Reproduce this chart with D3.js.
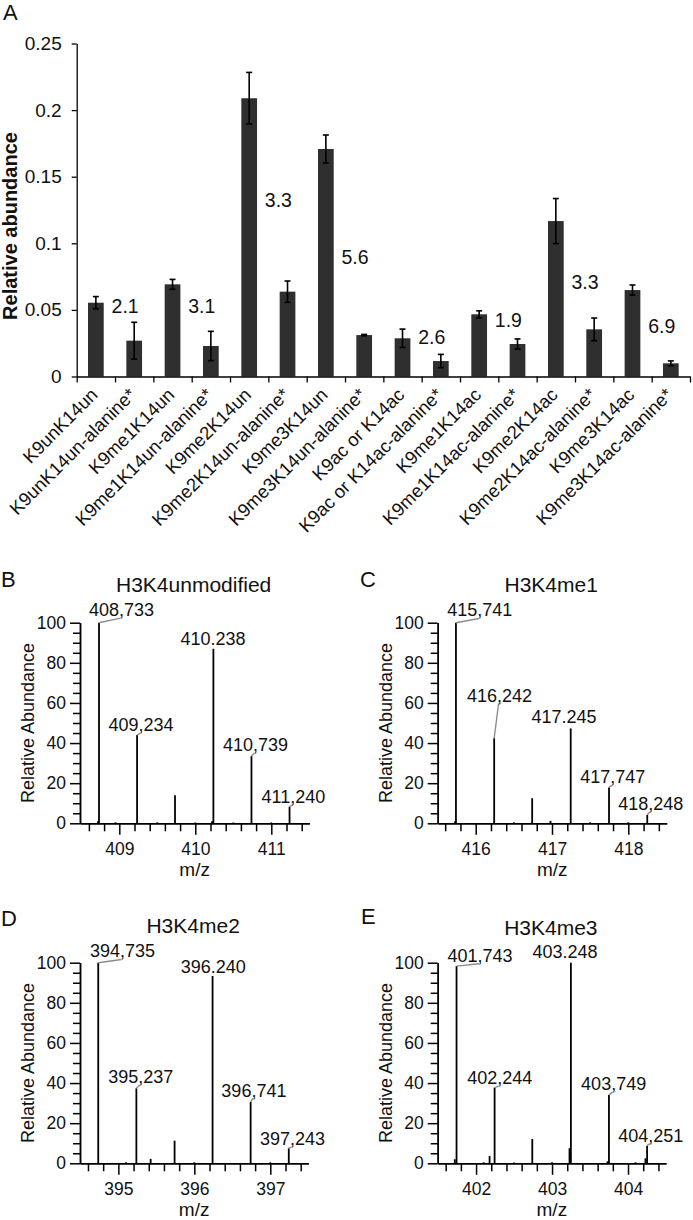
<!DOCTYPE html>
<html><head><meta charset="utf-8">
<script src="https://cdn.jsdelivr.net/npm/d3@7"></script>
<style>
body{margin:0;background:#fff}
svg{display:block}
text{font-family:"Liberation Sans",Arial,Helvetica,sans-serif;fill:#111}
</style>
</head><body>
<svg id="chart" width="693" height="1220"></svg>
<script>
// ---------- Panel A data ----------
const categories = ["K9unK14un","K9unK14un-alanine*","K9me1K14un","K9me1K14un-alanine*",
  "K9me2K14un","K9me2K14un-alanine*","K9me3K14un","K9me3K14un-alanine*",
  "K9ac or K14ac","K9ac or K14ac-alanine*","K9me1K14ac","K9me1K14ac-alanine*",
  "K9me2K14ac","K9me2K14ac-alanine*","K9me3K14ac","K9me3K14ac-alanine*"];
const abundance = [0.0554,0.0269,0.0692,0.0229,0.2089,0.0637,0.1708,0.0311,
  0.0287,0.0116,0.0467,0.0244,0.1167,0.0354,0.0649,0.0099];
const abundanceErr = [0.0046,0.0138,0.0037,0.0110,0.0194,0.0080,0.0105,0.0005,
  0.0069,0.0050,0.0026,0.0038,0.0169,0.0085,0.0038,0.0018];
const ratioLabels = ["2.1","3.1","3.3","5.6","2.6","1.9","3.3","6.9"];
const ratioLabelAt = [0.0529,0.0529,0.1325,0.0901,0.0299,0.0428,0.0713,0.0379];
const yTicksA = [0,0.05,0.1,0.15,0.2,0.25];
const yTickLabelsA = ["0","0.05","0.1","0.15","0.2","0.25"];

// ---------- Spectra data ----------
const mzB  = [408.733,408.72,408.95,409.234,409.5,409.733,410.0,410.22,410.238,410.5,410.739,411.0,411.240];
const intB = [100,1.0,0.5,44,0.5,14,0.4,1.0,87,0.4,33.5,0.4,8.3];
const labelsB = [
  {text:"408,733", mz:408.733, lx:409.029, ly:103.3, leader:true},
  {text:"409,234", mz:409.234, lx:409.286, ly:45.8, leader:true},
  {text:"410.238", mz:410.238, lx:410.233, ly:88.9, leader:false},
  {text:"410,739", mz:410.739, lx:410.792, ly:36.0, leader:true},
  {text:"411,240", mz:411.240, lx:411.292, ly:10.1, leader:true}];
const ticksB = [409,410,411];

const mzC  = [415.741,415.73,416.242,416.5,416.74,416.98,417.245,417.5,417.747,418.0,418.248];
const intC = [100,1.0,42.4,0.5,12.5,1.2,47.3,0.5,17.9,0.5,4.2];
const labelsC = [
  {text:"415,741", mz:415.741, lx:416.054, ly:103.1, leader:true},
  {text:"416,242", mz:416.242, lx:416.313, ly:60.7, leader:true},
  {text:"417.245", mz:417.245, lx:417.157, ly:49.8, leader:false},
  {text:"417,747", mz:417.747, lx:417.797, ly:19.9, leader:true},
  {text:"418,248", mz:418.248, lx:418.295, ly:6.6, leader:true}];
const ticksC = [416,417,418];

const mzD  = [394.735,395.1,395.237,395.425,395.74,396.0,396.240,396.741,397.0,397.243];
const intD = [100,0.5,37.4,2.2,11.3,0.5,93.4,30.7,0.5,7.5];
const labelsD = [
  {text:"394,735", mz:394.735, lx:395.054, ly:102.6, leader:true},
  {text:"395,237", mz:395.237, lx:395.295, ly:40.0, leader:true},
  {text:"396.240", mz:396.240, lx:396.249, ly:94.9, leader:false},
  {text:"396,741", mz:396.741, lx:396.784, ly:33.3, leader:true},
  {text:"397,243", mz:397.243, lx:397.291, ly:9.1, leader:true}];
const ticksD = [395,396,397];

const mzE  = [401.72,401.743,402.1,402.178,402.244,402.5,402.74,403.0,403.23,403.248,403.73,403.749,404.1,404.23,404.251];
const intE = [2.0,98.3,0.5,3.7,37.7,0.4,12.1,0.5,7.5,100,1.0,34.1,0.5,2.5,8.8];
const labelsE = [
  {text:"401,743", mz:401.743, lx:402.052, ly:100.5, leader:true},
  {text:"402,244", mz:402.244, lx:402.311, ly:39.5, leader:true},
  {text:"403.248", mz:403.248, lx:403.170, ly:102.2, leader:false},
  {text:"403,749", mz:403.749, lx:403.811, ly:36.5, leader:true},
  {text:"404,251", mz:404.251, lx:404.299, ly:10.8, leader:true}];
const ticksE = [402,403,404];

const yMajorSpec = [0,20,40,60,80,100];

// ---------- Drawing ----------
const svg = d3.select("#chart");
svg.append("rect").attr("width",693).attr("height",1220).attr("fill","#fff");
const FONT = '"Liberation Sans",Arial,sans-serif';

// Panel A
(function(){
  const left=76.7, right=690, top=43.5, bottom=376.5;
  const g = svg.append("g");
  const x = d3.scaleBand().domain(categories).range([left,right]).padding(0);
  const xb = d3.scaleLinear().domain([0,categories.length]).range([left,right]);
  const y = d3.scaleLinear().domain([0,0.25]).range([bottom,top]);
  const bw = x.bandwidth()*0.41;

  g.append("text").attr("x",3).attr("y",20).attr("font-size",22).text("A");

  g.selectAll("rect.bar").data(abundance).enter().append("rect")
    .attr("class","bar")
    .attr("x",(d,i)=>x(categories[i])+x.bandwidth()/2-bw/2)
    .attr("width",bw)
    .attr("y",d=>y(d)).attr("height",d=>y(0)-y(d))
    .attr("fill","#2f2f2f");

  const eb = g.selectAll("g.err").data(abundance).enter().append("g").attr("class","err");
  eb.append("line")
    .attr("x1",(d,i)=>x(categories[i])+x.bandwidth()/2).attr("x2",(d,i)=>x(categories[i])+x.bandwidth()/2)
    .attr("y1",(d,i)=>y(d+abundanceErr[i])).attr("y2",(d,i)=>y(d-abundanceErr[i]))
    .attr("stroke","#000").attr("stroke-width",1.6);
  [1,-1].forEach(s=>{
    eb.append("line")
      .attr("x1",(d,i)=>x(categories[i])+x.bandwidth()/2-3).attr("x2",(d,i)=>x(categories[i])+x.bandwidth()/2+3)
      .attr("y1",(d,i)=>y(d+s*abundanceErr[i])).attr("y2",(d,i)=>y(d+s*abundanceErr[i]))
      .attr("stroke","#000").attr("stroke-width",1.6);
  });

  const ya = g.append("g").attr("transform",`translate(${left},0)`)
    .call(d3.axisLeft(y).tickValues(yTicksA).tickFormat((d,i)=>yTickLabelsA[i]).tickSize(5).tickSizeOuter(0).tickPadding(10));
  ya.selectAll("text").attr("font-size",19).attr("fill","#111").style("font-family",FONT);
  ya.selectAll("line,path").attr("stroke","#000").attr("stroke-width",1.3);

  const xa = g.append("g").attr("transform",`translate(0,${bottom})`)
    .call(d3.axisBottom(xb).tickValues(d3.range(categories.length+1)).tickFormat("").tickSize(6).tickSizeOuter(0));
  xa.selectAll("line,path").attr("stroke","#000").attr("stroke-width",1.3);

  g.selectAll("text.cat").data(categories).enter().append("text")
    .attr("class","cat")
    .attr("text-anchor","end")
    .attr("font-size",18.5)
    .attr("transform",d=>`translate(${x(d)+x.bandwidth()/2+3},${bottom+19.5}) rotate(-45)`)
    .text(d=>d);

  g.selectAll("text.ratio").data(ratioLabels).enter().append("text")
    .attr("class","ratio")
    .attr("x",(d,i)=>x(categories[2*i+1])-3.5)
    .attr("y",(d,i)=>y(ratioLabelAt[i]))
    .attr("dy","0.36em")
    .attr("font-size",19.5)
    .text(d=>d);

  g.append("text")
    .attr("transform",`translate(16.5,${(top+bottom)/2+16}) rotate(-90)`)
    .attr("text-anchor","middle").attr("font-size",20).attr("font-weight","bold")
    .text("Relative abundance");
})();

function drawSpectrum(cfg){
  const g = svg.append("g");
  const x = d3.scaleLinear().domain(cfg.domain).range([cfg.left,cfg.right]);
  const y = d3.scaleLinear().domain([0,100]).range([cfg.bottom,cfg.top]);

  g.append("text").attr("x",cfg.letterX).attr("y",cfg.letterY).attr("font-size",22).text(cfg.letter);
  g.append("text").attr("x",(cfg.left+cfg.right)/2-1).attr("y",cfg.titleY)
    .attr("text-anchor","middle").attr("font-size",21).text(cfg.title);

  const minorY = d3.range(0,101,5).filter(v=>v%20!==0);
  const yMin = g.append("g").attr("transform",`translate(${cfg.left},0)`)
    .call(d3.axisLeft(y).tickValues(minorY).tickFormat("").tickSize(7).tickSizeOuter(0));
  const yMaj = g.append("g").attr("transform",`translate(${cfg.left},0)`)
    .call(d3.axisLeft(y).tickValues(yMajorSpec).tickSize(10).tickSizeOuter(0).tickPadding(4));
  yMaj.selectAll("text").attr("font-size",17.5).attr("fill","#111").style("font-family",FONT);

  const lo = Math.ceil(cfg.domain[0]*5-1e-6), hi = Math.floor(cfg.domain[1]*5+1e-6);
  const minorX = d3.range(lo,hi+1).map(v=>+(v/5).toFixed(1)).filter(v=>Math.abs(v-Math.round(v))>1e-6);
  const xMin = g.append("g").attr("transform",`translate(0,${cfg.bottom})`)
    .call(d3.axisBottom(x).tickValues(minorX).tickFormat("").tickSize(8).tickSizeOuter(0));
  const xMaj = g.append("g").attr("transform",`translate(0,${cfg.bottom})`)
    .call(d3.axisBottom(x).tickValues(cfg.ticks).tickFormat(d3.format("d")).tickSize(11.5).tickSizeOuter(0).tickPadding(8));
  xMaj.selectAll("text").attr("font-size",17.5).attr("fill","#111").style("font-family",FONT);
  [yMin,yMaj,xMin,xMaj].forEach(a=>a.selectAll("line,path").attr("stroke","#000").attr("stroke-width",1.5));

  g.selectAll("line.peak").data(cfg.mz).enter().append("line")
    .attr("class","peak")
    .attr("x1",d=>x(d)).attr("x2",d=>x(d))
    .attr("y1",y(0)).attr("y2",(d,i)=>y(cfg.inten[i]))
    .attr("stroke","#000").attr("stroke-width",1.8);

  const inten = m => cfg.inten[cfg.mz.indexOf(m)];
  g.selectAll("line.lead").data(cfg.labels.filter(l=>l.leader)).enter().append("line")
    .attr("class","lead")
    .attr("x1",d=>x(d.mz)).attr("y1",d=>y(inten(d.mz)))
    .attr("x2",d=>x(d.lx)-1).attr("y2",d=>y(d.ly)+2)
    .attr("stroke","#8c8c8c").attr("stroke-width",1.4);
  g.selectAll("text.plab").data(cfg.labels).enter().append("text")
    .attr("class","plab")
    .attr("x",d=>x(d.lx)).attr("y",d=>y(d.ly))
    .attr("text-anchor","middle").attr("font-size",18).text(d=>d.text);

  g.append("text").attr("x",x((cfg.domain[0]+cfg.domain[1])/2)).attr("y",cfg.bottom+53)
    .attr("text-anchor","middle").attr("font-size",19).text("m/z");
  g.append("text")
    .attr("transform",`translate(${cfg.left-46},${(cfg.top+cfg.bottom)/2}) rotate(-90)`)
    .attr("text-anchor","middle").attr("font-size",18).text("Relative Abundance");
}

drawSpectrum({letter:"B",letterX:1,letterY:587,title:"H3K4unmodified",titleY:591.7,
  left:80,right:309.3,top:622.7,bottom:823.3,domain:[408.483,411.5],ticks:ticksB,mz:mzB,inten:intB,labels:labelsB});
drawSpectrum({letter:"C",letterX:360,letterY:587,title:"H3K4me1",titleY:591.7,
  left:437.7,right:666.7,top:622.7,bottom:823.3,domain:[415.502,418.503],ticks:ticksC,mz:mzC,inten:intC,labels:labelsC});
drawSpectrum({letter:"D",letterX:1,letterY:926,title:"H3K4me2",titleY:933,
  left:80,right:308.3,top:962.7,bottom:1163.3,domain:[394.495,397.5],ticks:ticksD,mz:mzD,inten:intD,labels:labelsD});
drawSpectrum({letter:"E",letterX:361,letterY:924,title:"H3K4me3",titleY:935,
  left:437.7,right:666,top:962.7,bottom:1163.3,domain:[401.495,404.5],ticks:ticksE,mz:mzE,inten:intE,labels:labelsE});
</script>
</body></html>
